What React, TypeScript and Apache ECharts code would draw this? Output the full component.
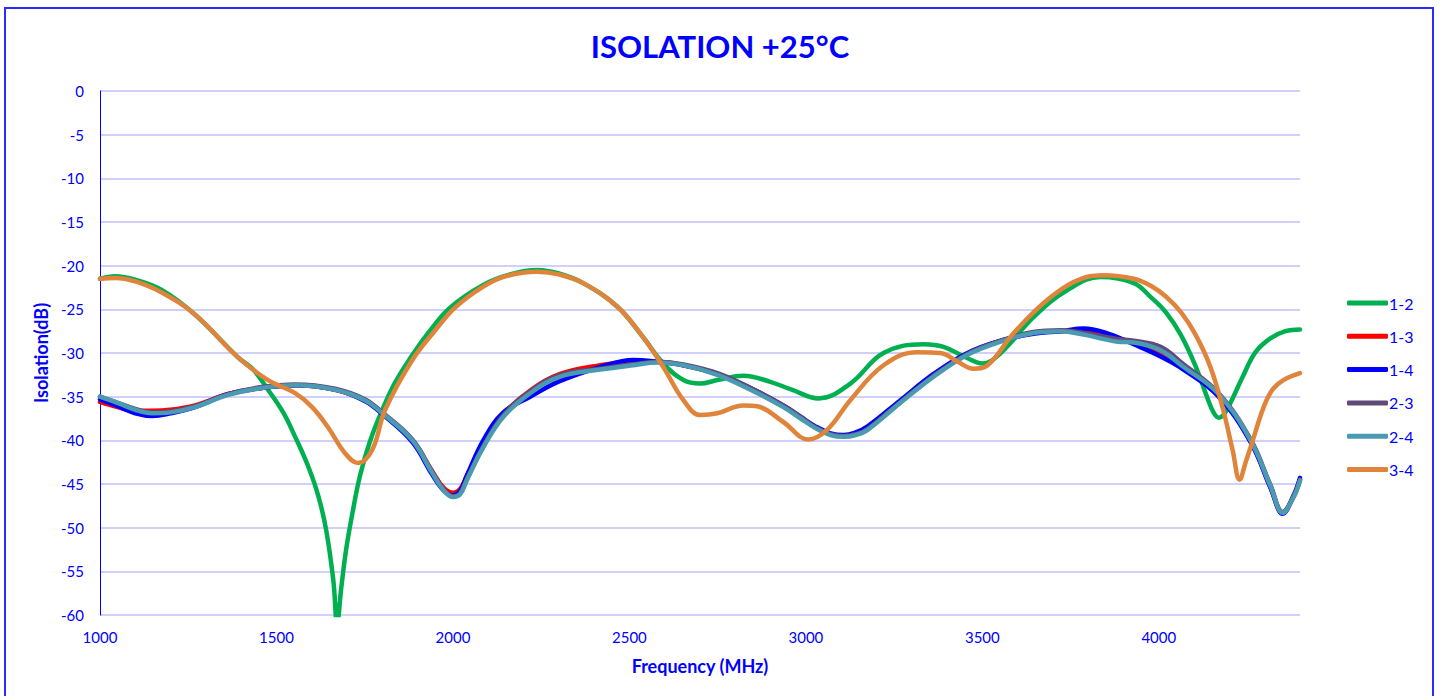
import React, { useEffect, useRef } from "react";
import * as echarts from "echarts";

type P = [number, number];

const seriesNames = ["1-2", "1-3", "1-4", "2-3", "2-4", "3-4"];
const seriesColors = ["#00b050", "#ff0000", "#0000ff", "#604a7b", "#4a9ab2", "#e0843c"];

const s12: P[] = [
  [1000, -21.5], [1043, -21.2], [1100, -21.6], [1176, -22.8], [1269, -25.6], [1391, -30.5],
  [1434, -31.9], [1476, -34.2], [1519, -36.8], [1553, -39.6], [1590, -43.0], [1618, -46.3],
  [1641, -50.3], [1661, -56.0], [1672, -61.0], [1683, -57.1], [1697, -52.6], [1714, -48.6],
  [1737, -44.0], [1766, -40.0], [1800, -36.5], [1836, -33.4], [1879, -30.6], [1930, -27.7],
  [1992, -24.8], [2086, -22.2], [2162, -21.0], [2239, -20.5], [2300, -20.9], [2369, -22.0],
  [2466, -24.7], [2539, -28.2], [2596, -31.2], [2653, -33.1], [2701, -33.5], [2749, -33.1],
  [2823, -32.6], [2899, -33.3], [2960, -34.2], [3036, -35.2], [3126, -33.5], [3220, -30.0],
  [3333, -29.0], [3390, -29.3], [3458, -30.6], [3500, -31.2], [3552, -30.0], [3645, -25.9],
  [3741, -22.8], [3835, -21.3], [3929, -22.0], [3977, -23.6], [4019, -25.3], [4062, -27.9],
  [4104, -31.5], [4138, -35.2], [4155, -36.8], [4170, -37.4], [4187, -36.9], [4209, -35.2],
  [4238, -32.7], [4274, -29.9], [4317, -28.3], [4359, -27.5], [4400, -27.3],
];

const s13: P[] = [
  [1000, -35.6], [1050, -36.2], [1100, -36.6], [1147, -36.6], [1200, -36.5], [1269, -36.0],
  [1363, -34.7], [1459, -34.0], [1553, -33.7], [1666, -34.2], [1750, -35.4], [1800, -36.9],
  [1885, -40.0], [1941, -43.5], [1975, -45.5], [2001, -46.0], [2020, -45.6], [2040, -44.0],
  [2086, -40.4], [2143, -37.0], [2219, -34.3], [2304, -32.4], [2418, -31.4], [2511, -31.0],
  [2579, -31.0], [2653, -31.4], [2749, -32.4], [2843, -34.1], [2936, -36.1], [2985, -37.4],
  [3027, -38.5], [3070, -39.3], [3107, -39.5], [3141, -39.3], [3175, -38.7], [3268, -35.6],
  [3362, -32.6], [3458, -30.1], [3552, -28.6], [3645, -27.7], [3722, -27.5], [3787, -27.5],
  [3850, -28.0], [3929, -28.8], [4005, -29.9], [4070, -31.7], [4167, -34.7], [4260, -40.1],
  [4317, -45.4], [4351, -48.3], [4382, -46.4], [4400, -44.5],
];

const s14: P[] = [
  [1000, -35.3], [1050, -36.1], [1100, -36.9], [1147, -37.2], [1200, -36.9], [1269, -36.2],
  [1363, -34.7], [1459, -34.0], [1553, -33.7], [1666, -34.2], [1750, -35.5], [1800, -37.0],
  [1885, -40.2], [1941, -43.9], [1975, -45.8], [2001, -46.3], [2020, -45.8], [2040, -44.0],
  [2086, -40.0], [2143, -36.8], [2219, -35.0], [2304, -33.2], [2418, -31.6], [2511, -30.8],
  [2579, -31.0], [2653, -31.4], [2749, -32.4], [2843, -34.0], [2936, -36.0], [2985, -37.3],
  [3027, -38.4], [3070, -39.2], [3107, -39.4], [3141, -39.1], [3175, -38.4], [3268, -35.4],
  [3362, -32.4], [3458, -30.0], [3552, -28.6], [3645, -27.8], [3722, -27.5], [3787, -27.2],
  [3850, -27.7], [3929, -29.0], [4005, -30.4], [4070, -31.9], [4167, -34.9], [4260, -40.2],
  [4317, -45.5], [4351, -48.4], [4382, -46.3], [4400, -44.3],
];

const s23: P[] = [
  [1000, -35.0], [1050, -35.7], [1100, -36.4], [1147, -36.8], [1200, -36.7], [1269, -36.1],
  [1363, -34.7], [1459, -33.9], [1553, -33.6], [1666, -34.1], [1750, -35.3], [1800, -36.8],
  [1885, -39.9], [1941, -43.6], [1975, -45.7], [2001, -46.4], [2020, -46.1], [2040, -44.4],
  [2086, -40.7], [2143, -37.1], [2219, -34.4], [2304, -32.5], [2418, -31.8], [2511, -31.3],
  [2579, -31.0], [2653, -31.3], [2749, -32.3], [2843, -34.0], [2936, -36.0], [2985, -37.3],
  [3027, -38.5], [3070, -39.3], [3107, -39.5], [3141, -39.3], [3175, -38.7], [3268, -35.6],
  [3362, -32.6], [3458, -30.1], [3552, -28.6], [3645, -27.6], [3722, -27.4], [3787, -27.7],
  [3883, -28.4], [3929, -28.6], [4005, -29.3], [4070, -31.3], [4167, -34.5], [4260, -39.9],
  [4317, -45.2], [4351, -48.2], [4382, -46.4], [4400, -44.5],
];

const s24: P[] = [
  [1000, -35.0], [1050, -35.7], [1100, -36.5], [1147, -36.9], [1200, -36.8], [1269, -36.2],
  [1363, -34.8], [1459, -34.0], [1553, -33.7], [1666, -34.2], [1750, -35.4], [1800, -36.9],
  [1885, -40.0], [1941, -43.7], [1975, -45.8], [2001, -46.5], [2020, -46.2], [2040, -44.5],
  [2086, -40.8], [2143, -37.3], [2219, -34.6], [2304, -32.7], [2418, -31.9], [2511, -31.4],
  [2579, -31.1], [2653, -31.4], [2749, -32.5], [2843, -34.2], [2936, -36.2], [2985, -37.5],
  [3027, -38.6], [3070, -39.4], [3107, -39.6], [3141, -39.4], [3175, -38.8], [3268, -35.7],
  [3362, -32.7], [3458, -30.2], [3552, -28.7], [3645, -27.7], [3722, -27.5], [3787, -27.9],
  [3883, -28.7], [3929, -28.8], [4005, -29.7], [4070, -31.6], [4167, -34.6], [4260, -40.0],
  [4317, -45.3], [4351, -48.3], [4382, -46.5], [4400, -44.6],
];

const s34: P[] = [
  [1000, -21.5], [1043, -21.4], [1100, -21.8], [1176, -23.1], [1269, -25.6], [1391, -30.5],
  [1476, -33.1], [1553, -34.6], [1601, -36.2], [1646, -38.5], [1695, -41.5], [1731, -42.6],
  [1771, -41.1], [1808, -36.5], [1885, -30.8], [1950, -27.4], [2006, -24.8], [2086, -22.4],
  [2150, -21.2], [2239, -20.7], [2300, -21.0], [2369, -22.0], [2466, -24.7], [2539, -28.2],
  [2596, -31.6], [2653, -35.4], [2701, -37.1], [2749, -36.9], [2823, -36.0], [2862, -36.1],
  [2936, -37.9], [3007, -39.9], [3060, -38.8], [3126, -35.4], [3220, -31.4], [3316, -29.9],
  [3381, -30.0], [3430, -31.0], [3475, -31.8], [3515, -31.4], [3589, -27.7], [3694, -23.6],
  [3787, -21.4], [3844, -21.1], [3929, -21.5], [3977, -22.3], [4019, -23.5], [4062, -25.3],
  [4104, -27.9], [4147, -31.7], [4181, -36.3], [4209, -41.1], [4229, -44.5], [4246, -42.5],
  [4260, -40.8], [4297, -36.2], [4322, -34.2], [4353, -33.1], [4400, -32.3],
];

const seriesData = [s12, s13, s14, s23, s24, s34];

const xMin = 1000;
const xMax = 4400;
const xStep = 500;
const yMin = -60;
const yMax = 0;
const yStep = 5;

const BLUE = "#0000ff";
const FONT = "Lato, 'Noto Sans', sans-serif";

export default function App() {
  const ref = useRef<HTMLDivElement>(null);

  useEffect(() => {
    if (!ref.current) return;
    const chart = echarts.init(ref.current, undefined, { renderer: "svg" });
    chart.setOption({
      animation: false,
      backgroundColor: "#ffffff",
      title: {
        text: "ISOLATION +25°C",
        left: "center",
        top: 25,
        textStyle: { color: BLUE, fontSize: 31, fontWeight: "bold", fontFamily: FONT },
      },
      graphic: [
        {
          type: "rect",
          shape: { x: 5, y: 8, width: 1428, height: 700 },
          style: { fill: "none", stroke: "#2b2bff", lineWidth: 2 },
          z: -1,
          silent: true,
        },
      ],
      legend: {
        orient: "vertical",
        left: 1342,
        top: 290,
        icon: "roundRect",
        itemWidth: 41,
        itemHeight: 5,
        itemGap: 17.3,
        data: seriesNames,
        textStyle: { color: BLUE, fontSize: 16, fontFamily: FONT, padding: [0, 0, 0, -4] },
      },
      grid: { left: 100, top: 91, right: 140, bottom: 81, containLabel: false },
      xAxis: {
        type: "value",
        min: xMin,
        max: xMax,
        interval: xStep,
        name: "Frequency (MHz)",
        nameLocation: "middle",
        nameGap: 42,
        nameTextStyle: { color: BLUE, fontSize: 18, fontWeight: "bold", fontFamily: FONT },
        axisLine: { show: false },
        axisTick: { show: false },
        splitLine: { show: false },
        axisLabel: {
          color: BLUE,
          fontSize: 15,
          fontFamily: FONT,
          margin: 14,
          showMaxLabel: false,
          formatter: (v: number) => String(v),
        },
      },
      yAxis: {
        type: "value",
        min: yMin,
        max: yMax,
        interval: yStep,
        name: "Isolation(dB)",
        nameLocation: "middle",
        nameGap: 49,
        nameRotate: 90,
        nameTextStyle: { color: BLUE, fontSize: 18, fontWeight: "bold", fontFamily: FONT },
        axisLine: { show: true, onZero: false, lineStyle: { color: BLUE, width: 1 } },
        axisTick: { show: false },
        splitLine: { show: true, lineStyle: { color: "#c0c0f8", width: 1.5 } },
        axisLabel: { color: BLUE, fontSize: 15, fontFamily: FONT, margin: 16 },
      },
      series: seriesNames.map((name, i) => ({
        name,
        type: "line",
        data: seriesData[i],
        smooth: 0.4,
        symbol: "none",
        clip: true,
        color: seriesColors[i],
        lineStyle: { color: seriesColors[i], width: 4.5, cap: "round", join: "round" },
      })),
    });
    return () => chart.dispose();
  }, []);

  return (
    <div
      ref={ref}
      style={{ position: "fixed", left: 0, top: 0, width: 1440, height: 696 }}
    />
  );
}
